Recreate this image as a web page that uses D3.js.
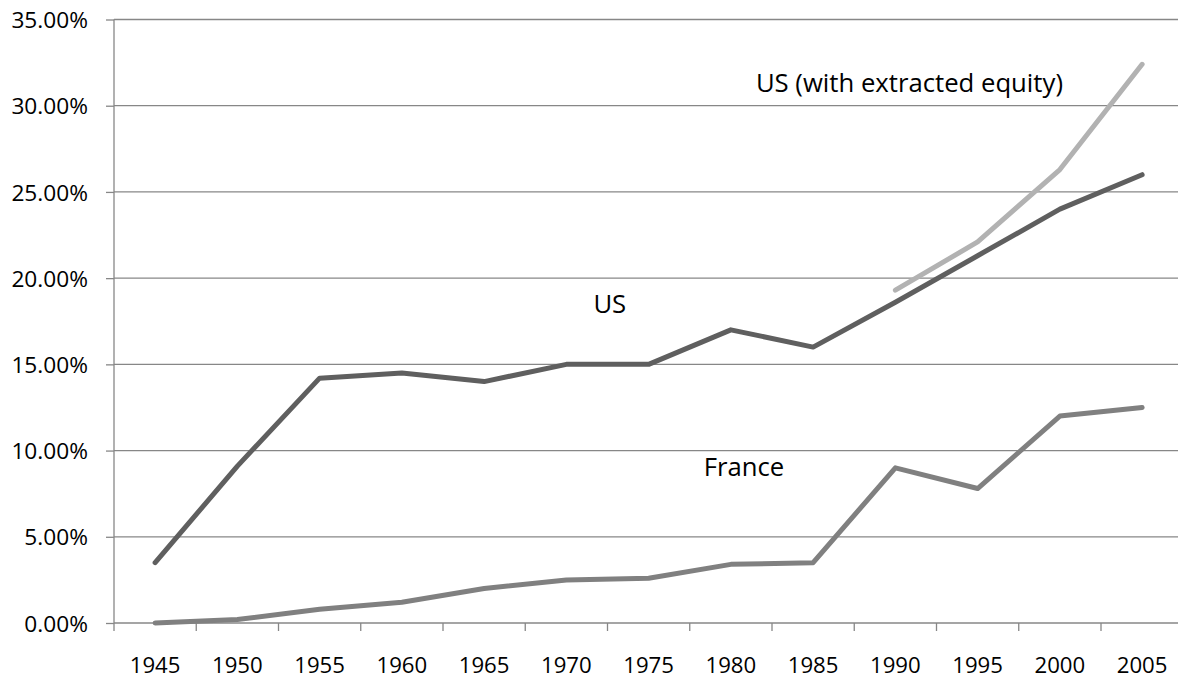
<!DOCTYPE html>
<html>
<head>
<meta charset="utf-8">
<script src="https://cdn.jsdelivr.net/npm/d3@7"></script>
<style>
  body { margin: 0; background: #fff; overflow: hidden; }
  svg { display: block; }
  text { font-family: "Open Sans", sans-serif; fill: #000; }
</style>
</head>
<body>
<div id="root"></div>
<script>
const years = ["1945","1950","1955","1960","1965","1970","1975","1980","1985","1990","1995","2000","2005"];
const us = [3.5, 9.1, 14.2, 14.5, 14.0, 15.0, 15.0, 17.0, 16.0, 18.6, 21.3, 24.0, 26.0];
const france = [0.0, 0.2, 0.8, 1.2, 2.0, 2.5, 2.6, 3.4, 3.5, 9.0, 7.8, 12.0, 12.5];
const usEquity = [null, null, null, null, null, null, null, null, null, 19.3, 22.1, 26.3, 32.4];
const yTicks = [0, 5, 10, 15, 20, 25, 30, 35];
const labels = [
  {text: "US (with extracted equity)", year: "1980", value: 30.8, dx: 25},
  {text: "US", year: "1970", value: 18.0, dx: 27},
  {text: "France", year: "1975", value: 8.5, dx: 55}
];

const svg = d3.select("#root")
  .append("svg")
  .attr("width", 1178)
  .attr("height", 679);

const margin = {top: 19.5, left: 114};
const width = 13 * 82.25;
const height = 603.5;

const x = d3.scaleBand().domain(years).range([0, width]).padding(0);
const y = d3.scaleLinear().domain([0, 35]).range([height, 0]);

const g = svg.append("g")
  .attr("transform", "translate(" + margin.left + "," + margin.top + ")");

// gridlines
g.append("g")
  .selectAll("line")
  .data(yTicks)
  .enter().append("line")
    .attr("x1", 0)
    .attr("x2", width)
    .attr("y1", d => y(d))
    .attr("y2", d => y(d))
    .attr("stroke", "#878787")
    .attr("stroke-width", 1.3);

// y axis
const yAxis = g.append("g")
  .call(d3.axisLeft(y).tickValues(yTicks).tickSize(8).tickPadding(18)
    .tickFormat(d => d.toFixed(2) + "%"));
yAxis.select(".domain").attr("stroke", "#878787").attr("stroke-width", 1.3)
  .attr("d", "M0," + (height + 8) + "V0");
yAxis.selectAll(".tick line").attr("stroke", "#878787").attr("stroke-width", 1.3);
yAxis.selectAll(".tick text")
  .attr("font-size", "22.7px")
  .attr("font-family", "Open Sans")
  .attr("fill", "#000")
  .attr("dy", "0.36em");

// x axis
const xAxis = g.append("g")
  .attr("transform", "translate(0," + height + ")")
  .call(d3.axisBottom(x).tickSize(0));
xAxis.select(".domain").remove();
xAxis.selectAll(".tick text")
  .attr("font-size", "22.2px")
  .attr("font-family", "Open Sans")
  .attr("fill", "#000")
  .attr("y", 50)
  .attr("dy", 0);

g.append("g")
  .attr("transform", "translate(0," + height + ")")
  .selectAll("line")
  .data(years.slice(1).concat(["end"]))
  .enter().append("line")
    .attr("x1", d => d === "end" ? width : x(d))
    .attr("x2", d => d === "end" ? width : x(d))
    .attr("y1", 0)
    .attr("y2", 8)
    .attr("stroke", "#878787")
    .attr("stroke-width", 1.3);

// lines
const cx = d => x(d) + x.bandwidth() / 2;

const series = [
  {values: usEquity, color: "#b2b2b2"},
  {values: france, color: "#808080"},
  {values: us, color: "#5f5f5f"}
];

const line = d3.line()
  .defined(d => d.v !== null)
  .x(d => cx(d.year))
  .y(d => y(d.v));

g.selectAll(".series")
  .data(series)
  .enter().append("path")
    .attr("class", "series")
    .attr("fill", "none")
    .attr("stroke", d => d.color)
    .attr("stroke-width", 5)
    .attr("stroke-linecap", "round")
    .attr("stroke-linejoin", "round")
    .attr("d", d => line(years.map((yr, i) => ({year: yr, v: d.values[i]}))));

// annotations
g.selectAll(".label")
  .data(labels)
  .enter().append("text")
    .attr("class", "label")
    .attr("x", d => cx(d.year) + d.dx)
    .attr("y", d => y(d.value))
    .attr("font-size", "25.7px")
    .text(d => d.text);
</script>
</body>
</html>
